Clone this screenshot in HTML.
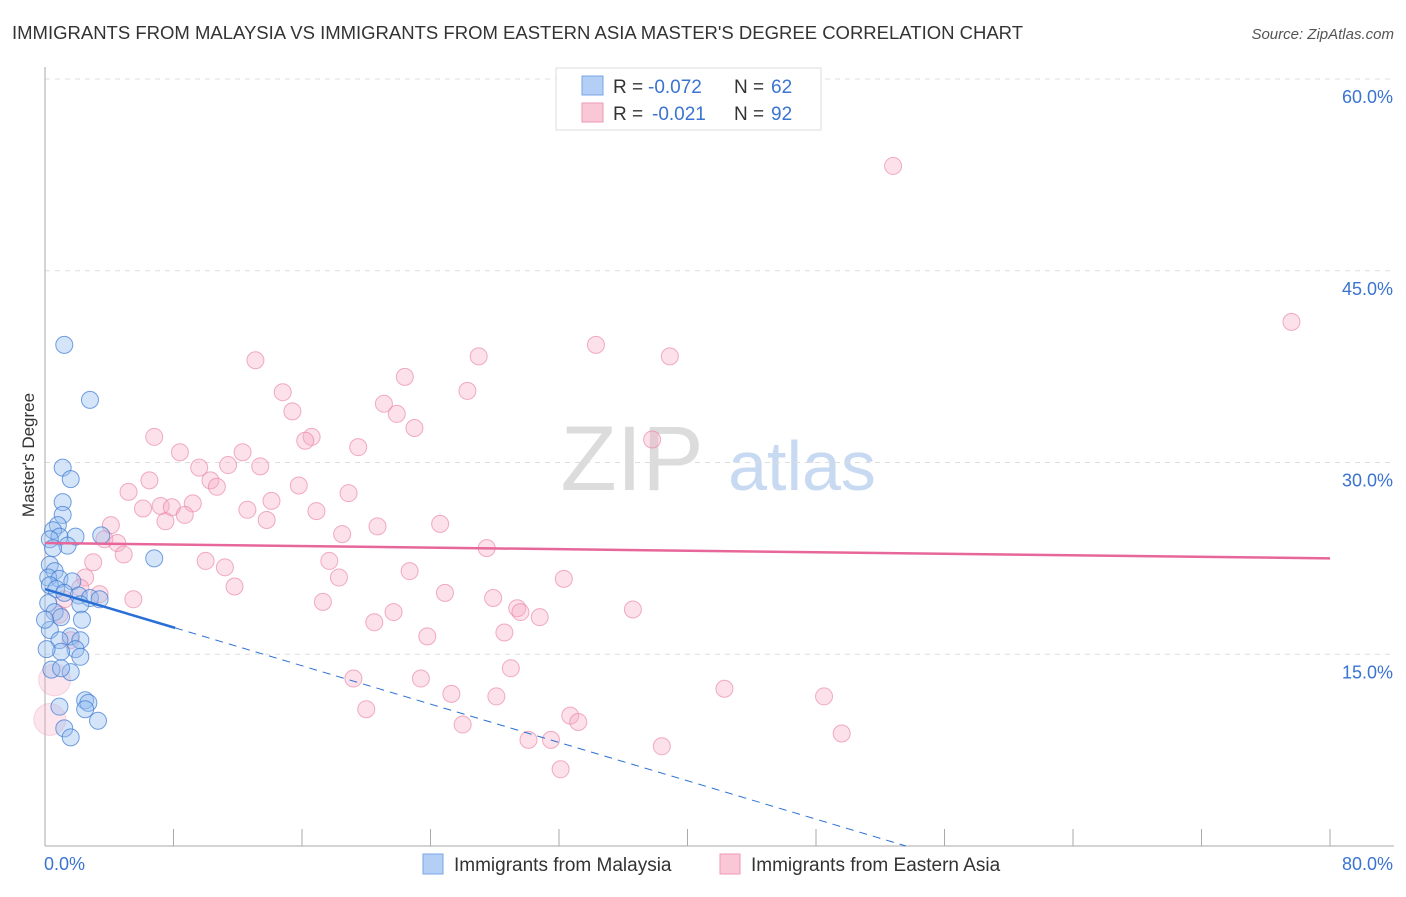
<!DOCTYPE html>
<html><head><meta charset="utf-8"><style>
body{margin:0;background:#fff;font-family:"Liberation Sans",sans-serif;}
svg text{font-family:"Liberation Sans",sans-serif;}
</style></head><body>
<svg id="chart" width="1406" height="892" xmlns="http://www.w3.org/2000/svg">
<text x="12" y="39" font-size="18.3" fill="#333" textLength="1011" lengthAdjust="spacingAndGlyphs">IMMIGRANTS FROM MALAYSIA VS IMMIGRANTS FROM EASTERN ASIA MASTER'S DEGREE CORRELATION CHART</text>
<text x="1394" y="39" font-size="15" fill="#555" text-anchor="end" font-style="italic">Source: ZipAtlas.com</text>
<g>
<text x="632" y="490" font-size="92" fill="#dcdcdc" font-family="Liberation Serif" text-anchor="middle">ZIP</text>
<text x="802" y="490" font-size="70" fill="#c8daf2" text-anchor="middle">atlas</text>
</g>
<g id="grid"></g>
<g id="axes"></g>
<g id="marks"></g>
<text transform="translate(34,455) rotate(-90)" font-size="17" fill="#333" text-anchor="middle">Master's Degree</text>
<g>
<rect x="556" y="68" width="265" height="62" fill="#fff" stroke="#ddd"/>
<rect x="582" y="76" width="21" height="19" fill="#b3cff5" stroke="#7aa6e6"/>
<rect x="582" y="103" width="21" height="19" fill="#f9c7d6" stroke="#ee9ab4"/>
<text x="613" y="93" font-size="19" fill="#333">R =</text>
<text x="648" y="93" font-size="19" fill="#3a73d0">-0.072</text>
<text x="734" y="93" font-size="19" fill="#333">N =</text>
<text x="771" y="93" font-size="19" fill="#3a73d0">62</text>
<text x="613" y="120" font-size="19" fill="#333">R =</text>
<text x="652" y="120" font-size="19" fill="#3a73d0">-0.021</text>
<text x="734" y="120" font-size="19" fill="#333">N =</text>
<text x="771" y="120" font-size="19" fill="#3a73d0">92</text>
</g>
<g>
<rect x="423" y="854" width="20" height="20" fill="#b3cff5" stroke="#7aa6e6"/>
<text x="454" y="871" font-size="19" fill="#333">Immigrants from Malaysia</text>
<rect x="720" y="854" width="20" height="20" fill="#f9c7d6" stroke="#ee9ab4"/>
<text x="751" y="871" font-size="19" fill="#333">Immigrants from Eastern Asia</text>
</g>
</svg>
<script>
const yTicks=[15,30,45,60];
const yTickLabels=["15.0%","30.0%","45.0%","60.0%"];
const xTickCount=10;
const xMin=0,xMax=80,yMin=0,yMax=60;
const blueX=[1.2,2.8,1.1,1.6,1.1,1.1,0.8,0.5,1.9,3.5,0.9,0.3,1.4,0.5,6.8,0.3,0.6,0.2,0.9,1.7,0.3,0.7,1.2,2.1,2.8,3.4,0.2,2.2,0.6,1.0,2.3,0.3,1.6,2.2,0.9,1.9,1.0,2.2,0.4,1.6,1.0,2.5,2.7,0.9,2.5,3.3,1.2,1.6,0,0.1];
const blueY=[39.2,34.9,29.6,28.7,26.9,25.9,25.1,24.7,24.2,24.3,24.2,24.0,23.5,23.3,22.5,22.0,21.5,21.0,20.9,20.7,20.4,20.1,19.8,19.6,19.4,19.3,19.0,18.9,18.3,17.9,17.7,16.9,16.4,16.1,16.1,15.4,15.2,14.8,13.8,13.6,13.9,11.4,11.2,10.9,10.7,9.8,9.2,8.5,17.7,15.4];
const pinkX=[52.8,77.6,13.1,27.0,34.3,38.9,22.4,26.3,14.8,15.4,21.1,21.9,23.0,6.8,16.6,16.2,19.5,37.8,8.4,12.3,11.4,9.6,13.4,6.5,10.3,10.7,15.8,5.2,18.9,14.1,7.2,7.9,9.2,6.1,12.6,16.9,8.7,7.5,13.8,24.6,20.7,4.1,18.5,3.7,4.5,27.5,4.9,3.0,10.0,11.2,17.7,22.7,2.5,18.3,32.3,11.8,2.2,3.4,24.9,5.5,27.9,17.3,29.4,29.6,36.6,21.7,30.8,20.5,23.8,28.6,29.0,19.2,23.4,25.3,28.1,42.3,48.5,20.0,32.7,33.2,26.0,49.6,30.1,31.5,38.4,32.1,1.6,0.9,1.2];
const pinkY=[53.2,41.0,38.0,38.3,39.2,38.3,36.7,35.6,35.5,34.0,34.6,33.8,32.7,32.0,32.0,31.7,31.2,31.8,30.8,30.8,29.8,29.6,29.7,28.6,28.6,28.1,28.2,27.7,27.6,27.0,26.6,26.5,26.8,26.4,26.3,26.2,25.9,25.4,25.5,25.2,25.0,25.1,24.4,24.0,23.7,23.3,22.8,22.2,22.3,21.8,22.3,21.5,21.0,21.0,20.9,20.3,20.2,19.7,19.8,19.3,19.4,19.1,18.6,18.3,18.5,18.3,17.9,17.5,16.4,16.7,13.9,13.1,13.1,11.9,11.7,12.3,11.7,10.7,10.2,9.7,9.5,8.8,8.3,8.3,7.8,6.0,16.1,18.1,19.3];
const pinkBigX=[0.6,0.3];
const pinkBigY=[13.0,9.9];
const blueTrend=[20.1,-0.375,8.1];
const pinkTrend=[23.7,-0.015];
const NS="http://www.w3.org/2000/svg";
const L=45,R=1330,T=79,B=846;
const sx=v=>L+(v-xMin)/(xMax-xMin)*(R-L);
const sy=v=>B-(v-yMin)/(yMax-yMin)*(B-T);
function mk(p,tag,a){const e=document.createElementNS(NS,tag);for(const k in a)e.setAttribute(k,a[k]);p.appendChild(e);return e;}
const grid=document.getElementById('grid'),axes=document.getElementById('axes'),marks=document.getElementById('marks');
yTicks.forEach((t,i)=>{
 const g=mk(grid,'line',{x1:L,x2:1394,y1:sy(t),y2:sy(t),stroke:'#ddd','stroke-dasharray':'5,5'});
 
 
 const tx=mk(axes,'text',{x:1393,y:sy(t)+24,'font-size':18,fill:'#3a73d0','text-anchor':'end'});tx.textContent=yTickLabels[i];
 
 
});
const ya=mk(axes,'line',{x1:L,x2:L,y1:67,y2:B,stroke:'#aaa'});


const xa=mk(axes,'line',{x1:L,x2:1394,y1:B,y2:B,stroke:'#aaa'});


for(let i=0;i<=xTickCount;i++){const v=xMin+i*(xMax-xMin)/xTickCount;const t=mk(axes,'line',{x1:sx(v),x2:sx(v),y1:829,y2:B,stroke:'#aaa'});
 
 }
const xl0=mk(axes,'text',{x:44,y:870,'font-size':18,fill:'#3a73d0'});xl0.textContent='0.0%';


const xl1=mk(axes,'text',{x:1393,y:870,'font-size':18,fill:'#3a73d0','text-anchor':'end'});xl1.textContent='80.0%';


pinkBigX.forEach((x,i)=>{const c=mk(marks,'circle',{cx:sx(x),cy:sy(pinkBigY[i]),r:16,fill:'rgba(246,170,195,0.3)',stroke:'rgba(236,140,170,0.3)'});
 
 });
pinkX.forEach((x,i)=>{const c=mk(marks,'circle',{cx:sx(x),cy:sy(pinkY[i]),r:8.5,fill:'rgba(246,170,195,0.35)',stroke:'rgba(233,130,165,0.65)'});
 
 });
blueX.forEach((x,i)=>{const c=mk(marks,'circle',{cx:sx(x),cy:sy(blueY[i]),r:8.5,fill:'rgba(150,190,240,0.4)',stroke:'rgba(60,120,210,0.7)'});
 
 });
const pl=mk(marks,'line',{x1:sx(0),y1:sy(pinkTrend[0]),x2:sx(80),y2:sy(pinkTrend[0]+pinkTrend[1]*80),stroke:'#e8679a','stroke-width':2.5});


const bEnd=blueTrend[2];const bl=mk(marks,'line',{x1:sx(0),y1:sy(blueTrend[0]),x2:sx(bEnd),y2:sy(blueTrend[0]+blueTrend[1]*bEnd),stroke:'#2a6fd6','stroke-width':2.5});


const xz=Math.min(80,-blueTrend[0]/blueTrend[1]);
const bd=mk(marks,'line',{x1:sx(bEnd),y1:sy(blueTrend[0]+blueTrend[1]*bEnd),x2:sx(xz),y2:sy(blueTrend[0]+blueTrend[1]*xz),stroke:'#2a6fd6','stroke-width':1,'stroke-dasharray':'8,6'});


</script>
</body></html>
